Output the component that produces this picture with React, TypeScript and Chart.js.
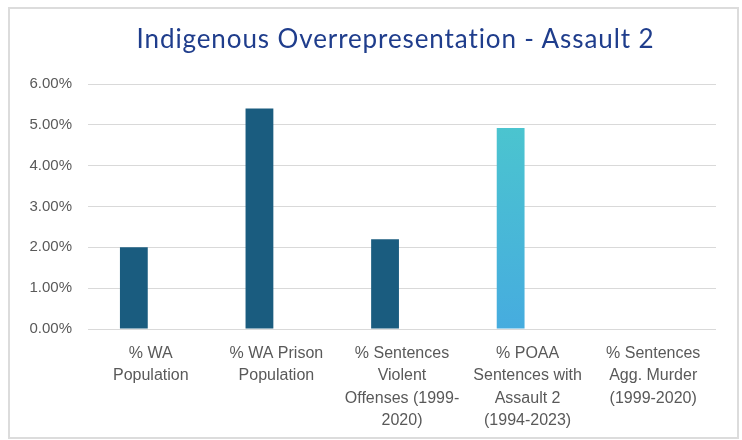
import React, { useEffect, useRef } from "react";
import { Chart, registerables } from "chart.js";

Chart.register(...registerables);

const chartTitle = "Indigenous Overrepresentation - Assault 2";
const categories: string[][] = [
  ["% WA", "Population"],
  ["% WA Prison", "Population"],
  ["% Sentences", "Violent", "Offenses (1999-", "2020)"],
  ["% POAA", "Sentences with", "Assault 2", "(1994-2023)"],
  ["% Sentences", "Agg. Murder", "(1999-2020)"],
];
const indigenousShare: (number | null)[] = [2.0, 5.4, 2.2, 4.92, 0];
const secondSeries: (number | null)[] = [null, null, null, null, null];
const yTicks = [0, 1, 2, 3, 4, 5, 6];

const DARK = "#1a5c7f";
const HIGHLIGHT_INDEX = 3;

export default function App() {
  const ref = useRef<HTMLCanvasElement | null>(null);

  useEffect(() => {
    const canvas = ref.current;
    if (!canvas) return;
    const chart = new Chart(canvas, {
      type: "bar",
      data: {
        labels: categories,
        datasets: [
          {
            label: "Indigenous",
            data: indigenousShare,
            backgroundColor: (ctx: any) => {
              if (ctx.dataIndex !== HIGHLIGHT_INDEX) return DARK;
              const c = ctx.chart;
              const ys = c.scales?.y;
              if (!ys || !c.chartArea) return "#48b8d6";
              const top = ys.getPixelForValue(indigenousShare[HIGHLIGHT_INDEX] as number);
              const bottom = ys.getPixelForValue(0);
              const g = c.ctx.createLinearGradient(0, top, 0, bottom);
              g.addColorStop(0, "#4bc4cf");
              g.addColorStop(1, "#46acdf");
              return g;
            },
            borderWidth: 0,
            categoryPercentage: 0.54,
            barPercentage: 0.82,
          },
          {
            label: "",
            data: secondSeries,
            backgroundColor: DARK,
            categoryPercentage: 0.54,
            barPercentage: 0.82,
          },
        ],
      },
      options: {
        responsive: false,
        animation: false,
        devicePixelRatio: 1,
        layout: { padding: { left: 0, right: 26, top: 84, bottom: 0 } },
        plugins: {
          legend: { display: false },
          tooltip: { enabled: false },
          title: { display: false },
        },
        scales: {
          x: {
            grid: { display: false, drawTicks: false },
            border: { display: false },
            ticks: {
              color: "#595959",
              font: { family: "'Liberation Sans', Arial, sans-serif", size: 16, lineHeight: 1.41 },
              padding: 13,
              maxRotation: 0,
              autoSkip: false,
            },
            afterFit: (s: any) => {
              s.height = 111;
            },
          },
          y: {
            min: 0,
            max: 6,
            afterBuildTicks: (s: any) => {
              s.ticks = yTicks.map((v) => ({ value: v }));
            },
            grid: { color: "#d9d9d9", lineWidth: 1, drawTicks: false },
            border: { display: false },
            ticks: {
              color: "#595959",
              font: { family: "'Liberation Sans', Arial, sans-serif", size: 15 },
              padding: 16,
              callback: (v: any) => Number(v).toFixed(2) + "%",
            },
            afterFit: (s: any) => {
              s.width = 88;
            },
          },
        },
      },
    });
    return () => chart.destroy();
  }, []);

  return (
    <div>
      <div
        style={{
          position: "absolute",
          left: 8,
          top: 7,
          width: 727,
          height: 428,
          border: "2px solid #dcdcdc",
          background: "#fff",
        }}
      />
      <canvas
        ref={ref}
        width={742}
        height={440}
        style={{ position: "absolute", left: 0, top: 0, width: 742, height: 440 }}
      />
      <div
        style={{
          position: "absolute",
          left: 0,
          top: 23,
          width: 791,
          textAlign: "center",
          fontFamily: "Lato, 'Open Sans', sans-serif",
          fontWeight: 400,
          fontSize: 26,
          letterSpacing: "0.9px",
          fontVariantLigatures: "none",
          lineHeight: "30px",
          color: "#1f3d8c",
          whiteSpace: "nowrap",
        }}
      >
        {chartTitle}
      </div>
    </div>
  );
}
